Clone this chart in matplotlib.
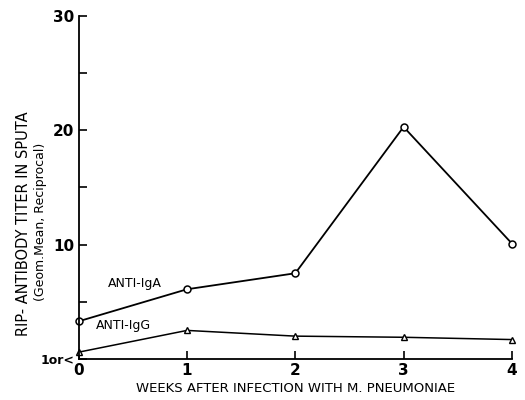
import numpy as np
import matplotlib
matplotlib.use('Agg')
import matplotlib.pyplot as plt

weeks = [0, 1, 2, 3, 4]
anti_iga = [3.3, 6.1, 7.5, 20.3, 10.1]
anti_igg = [0.6, 2.5, 2.0, 1.9, 1.7]
yticks = [0, 10, 20, 30]
yticklabels = ['1or<', '10', '20', '30']

fig = plt.figure(figsize=(5.25, 4), dpi=100)
ax = fig.add_axes([0.150, 0.1025, 0.825, 0.8575])

ax.plot(weeks, anti_iga, color='black', lw=1.3, marker='o', ms=5,
        mfc='white', mec='black', mew=1.1, clip_on=False)
ax.plot(weeks, anti_igg, color='black', lw=1.1, marker='^', ms=4.5,
        mfc='white', mec='black', mew=1.0, clip_on=False)

ax.text(0.27, 6.6, 'ANTI-IgA', fontsize=9, ha='left', va='center')
ax.text(0.16, 2.9, 'ANTI-IgG', fontsize=9, ha='left', va='center')

ax.set_xlim(0, 4)
ax.set_ylim(0, 30)
ax.spines['top'].set_visible(False)
ax.spines['right'].set_visible(False)
ax.spines['left'].set_linewidth(1.3)
ax.spines['bottom'].set_linewidth(1.3)

ax.set_xticks(weeks)
ax.set_xticklabels([str(w) for w in weeks], fontsize=11, fontweight='bold')
ax.set_yticks(yticks)
ax.set_yticklabels(yticklabels, fontsize=11, fontweight='bold')
ax.set_yticks([5, 15, 25], minor=True)
ax.tick_params(axis='both', direction='in', length=6, width=1.2, pad=3)
ax.tick_params(axis='y', which='minor', direction='in', length=6, width=1.2)
ax.get_yticklabels()[0].set_fontsize(9)

ax.set_xlabel('WEEKS AFTER INFECTION WITH M. PNEUMONIAE', fontsize=9.5, labelpad=3)

fig.text(0.044, 0.44, 'RIP- ANTIBODY TITER IN SPUTA', rotation=90,
         fontsize=10.5, ha='center', va='center')
fig.text(0.078, 0.445, '(Geom.Mean, Reciprocal)', rotation=90,
         fontsize=9, ha='center', va='center')

fig.savefig('out.png', dpi=100)
